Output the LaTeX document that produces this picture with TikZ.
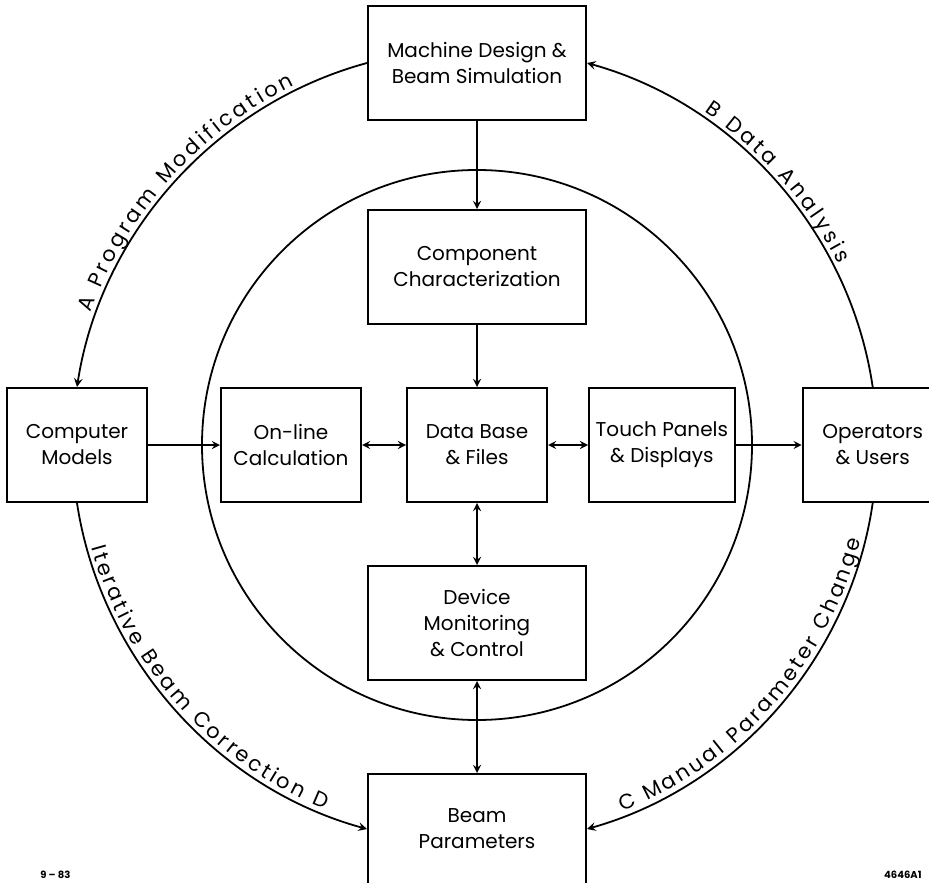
\documentclass[tikz,border=0pt]{standalone}
\usepackage{fontspec}
\setmainfont{Poppins}
\usepackage{tikz}
\usetikzlibrary{arrows,positioning,decorations.text}

\newcommand{\arcfont}{\fontsize{10.5}{12}\selectfont}

\begin{document}
\begin{tikzpicture}[
    node distance=30pt,
    thick,
    block/.style={rectangle, draw=black, line width=1pt, minimum width=70pt, minimum height=57pt, align=center, font=\fontsize{10}{13}\selectfont},
    wide/.style={block, minimum width=109pt},
    arrow/.style={thick, ->, >=stealth},
    ring/.style={line width=0.9pt},
    loop/.style={line width=0.9pt, >=stealth, postaction={decorate}},
    arctext/.style={decoration={text effects along path, text={#1}, text align=center, raise=2.5pt,
        text effects/.cd, text along path,
        character widths={inner xsep=0.75pt, font=\arcfont},
        characters={font=\arcfont, anchor=base}}}
]
% Frame
\clip (-238.5pt,-218.5pt) rectangle (226pt,222.5pt);

% Boxes
\node[block] (data) at (0,0) {Data Base\\\& Files};
\node[wide, above=31pt of data] (comp) {Component\\Characterization};
\node[wide, above=44pt of comp] (design) {Machine Design \&\\Beam Simulation};
\node[wide, below=31pt of data] (device) {Device\\Monitoring\\\& Control};
\node[wide, below=46pt of device, minimum height=55pt] (beam) {Beam\\Parameters};
\node[block, left=22pt of data] (online) {On-line\\Calculation};
\node[block, left=36pt of online] (models) {Computer\\Models};
\node[block, right=20pt of data] (touch) {Touch Panels\\\& Displays};
\node[block, right=33pt of touch] (ops) {Operators\\\& Users};

% Inner ring
\draw[ring] (data.center) circle[radius=137.5pt];

% Arrows
\draw[arrow] (design) -- (comp);
\draw[arrow] (comp) -- (data);
\draw[arrow, <->] (data) -- (device);
\draw[arrow, <->] (device) -- (beam);
\draw[arrow] (models) -- (online);
\draw[arrow, <->] (online) -- (data);
\draw[arrow, <->] (data) -- (touch);
\draw[arrow] (touch) -- (ops);

% Outer loops
\draw[loop, <-, arctext={A Program Modification}] (models.north) to[bend left=33, looseness=0.92] (design.west);
\draw[loop, <-, arctext={B Data Analysis}] (design.east) to[bend left=33, looseness=0.92] (ops.north);
\draw[loop, <-, arctext={C Manual Parameter Change}] (beam.east) to[bend right=33, looseness=0.92] (ops.south);
\draw[loop, ->, arctext={Iterative Beam Correction D}] (models.south) to[bend right=33, looseness=0.92] (beam.west);

% Corner marks
\node[font=\bfseries\fontsize{5}{6}\selectfont, anchor=west] (date) at (-222pt,-215pt) {9 -- 83};
\node[font=\bfseries\fontsize{5}{6}\selectfont, anchor=east] (figno) at (226pt,-215pt) {4646A1};
\end{tikzpicture}
\end{document}
